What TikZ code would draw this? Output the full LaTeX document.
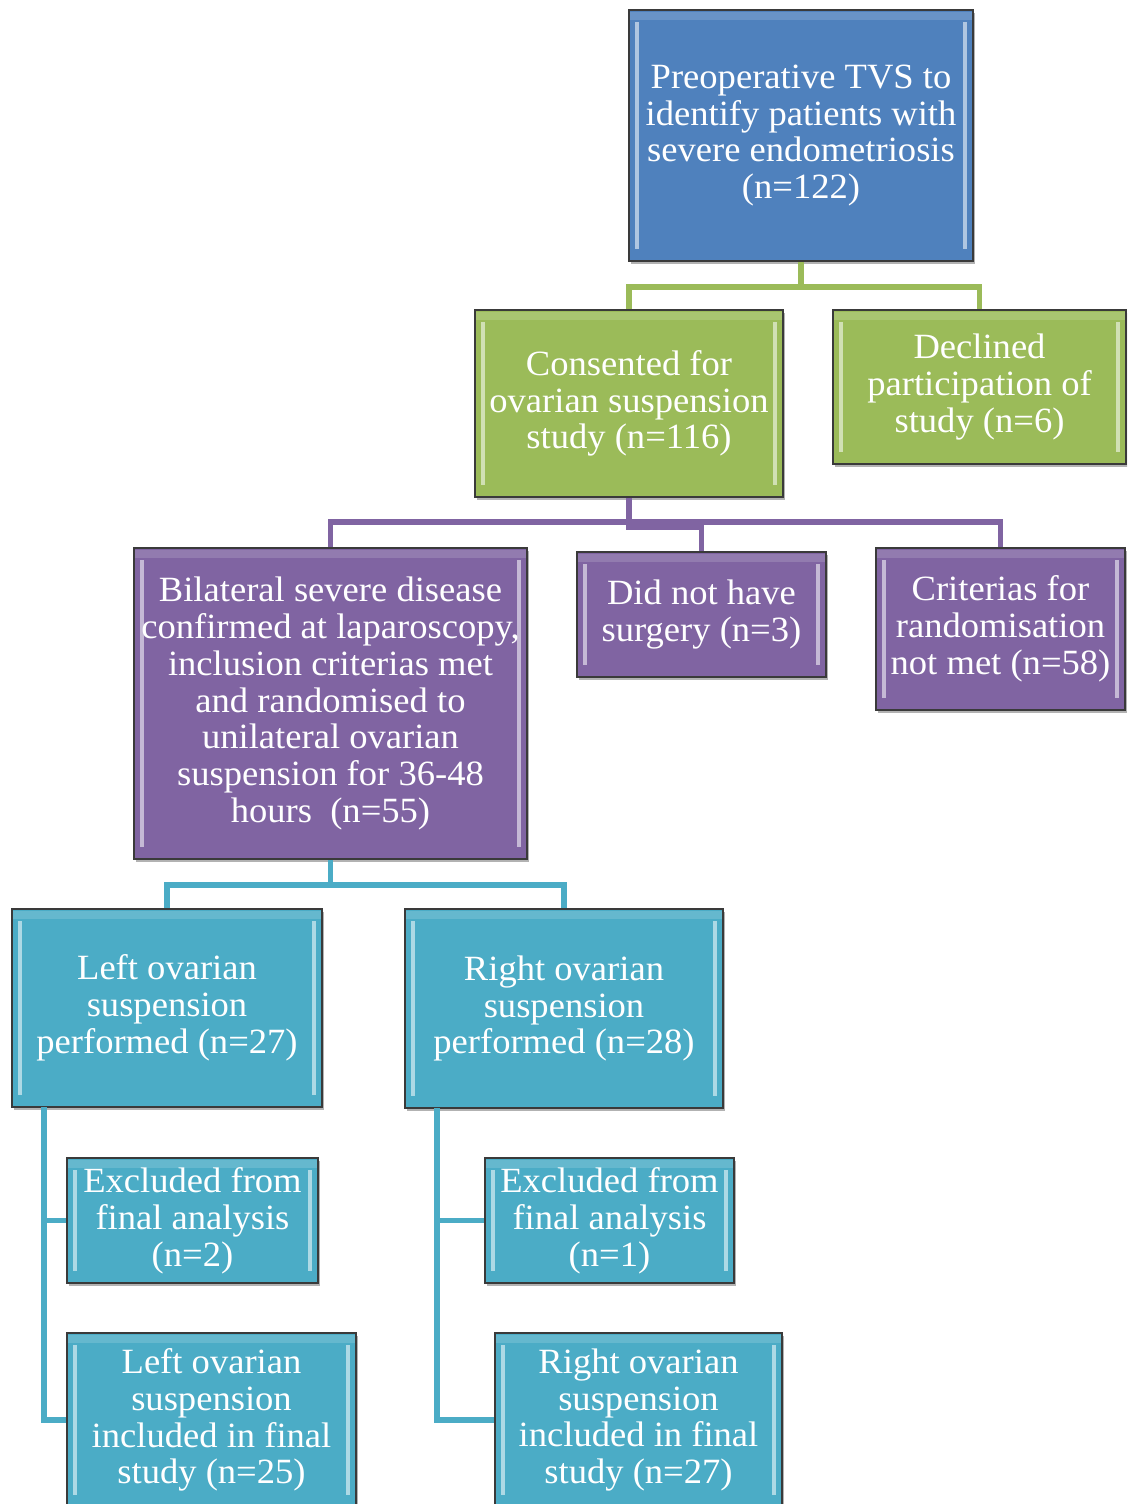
\documentclass[tikz,border=0pt]{standalone}
\usepackage{fontspec}
\setmainfont[FakeStretch=1.03]{Liberation Serif}
\usetikzlibrary{shadows,calc}
\definecolor{cblue}{HTML}{4F81BD}
\definecolor{cgreen}{HTML}{9BBB59}
\definecolor{cpurple}{HTML}{8064A2}
\definecolor{cteal}{HTML}{4BACC6}
\definecolor{cedge}{HTML}{3A3A3A}
\tikzset{
  box/.style={draw=cedge, line width=2.5pt, fill=#1, text=white, align=center,
    font=\fontsize{35.5}{36.8}\selectfont, inner sep=0pt,
    drop shadow={shadow xshift=2pt, shadow yshift=-3pt, opacity=0.3, fill=black},
    path picture={
      \fill[white,opacity=0.55] ([xshift=6pt,yshift=-12pt]path picture bounding box.north west) rectangle ([xshift=10pt,yshift=12pt]path picture bounding box.south west);
      \fill[white,opacity=0.55] ([xshift=-6pt,yshift=-12pt]path picture bounding box.north east) rectangle ([xshift=-10pt,yshift=12pt]path picture bounding box.south east);
      \fill[white,opacity=0.15] ([yshift=-2pt]path picture bounding box.north west) rectangle ([yshift=-10pt]path picture bounding box.north east);
    }},
  con/.style={draw=#1, line width=5.5pt},
}
\begin{document}
\begin{tikzpicture}[x=1pt,y=-1pt]
\useasboundingbox (0,0) rectangle (1127,1504);
\clip (0,0) rectangle (1127,1504);
% boxes
\node[box=cblue, minimum width=344pt, minimum height=251pt] (top) at (801,135.5) {Preoperative TVS to\\identify patients with\\severe endometriosis\\(n=122)};
\node[box=cgreen, minimum width=308pt, minimum height=187pt] (cons) at (629,403.5) {Consented for\\ovarian suspension\\study (n=116)};
\node[box=cgreen, minimum width=293pt, minimum height=154pt] (decl) at (979.5,387) {Declined\\participation of\\study (n=6)};
\node[box=cpurple, minimum width=393pt, minimum height=311pt] (bil) at (330.5,703.5) {Bilateral severe disease\\confirmed at laparoscopy,\\inclusion criterias met\\and randomised to\\unilateral ovarian\\suspension for 36-48\\hours~ (n=55)};
\node[box=cpurple, minimum width=249pt, minimum height=125pt] (did) at (701.5,614.5) {Did not have\\surgery (n=3)};
\node[box=cpurple, minimum width=249pt, minimum height=162pt] (crit) at (1000.5,629) {Criterias for\\randomisation\\not met (n=58)};
\node[box=cteal, minimum width=310pt, minimum height=198pt] (lor) at (167,1008) {Left ovarian\\suspension\\performed (n=27)};
\node[box=cteal, minimum width=318pt, minimum height=199pt] (ror) at (564,1008.5) {Right ovarian\\suspension\\performed (n=28)};
\node[box=cteal, minimum width=251pt, minimum height=125pt] (lex) at (192.5,1220.5) {Excluded from\\final analysis\\(n=2)};
\node[box=cteal, minimum width=249pt, minimum height=125pt] (rex) at (609.5,1220.5) {Excluded from\\final analysis\\(n=1)};
\node[box=cteal, minimum width=289pt, minimum height=174pt] (linc) at (211.5,1420) {Left ovarian\\suspension\\included in final\\study (n=25)};
\node[box=cteal, minimum width=287pt, minimum height=174pt] (rinc) at (638.5,1420) {Right ovarian\\suspension\\included in final\\study (n=27)};
% connectors
\coordinate (g1) at (801,287);
\draw[con=cgreen] (top.south) -- (g1) -| (cons.north);
\draw[con=cgreen] (g1) -| (decl.north);
\coordinate (p1) at (629,522);
\draw[con=cpurple] (cons.south) -- (p1) -| (bil.north);
\draw[con=cpurple] (p1) -| (crit.north);
\draw[con=cpurple] (cons.south) |- ($(did.north)+(0,-24)$) -- (did.north);
\coordinate (t1) at (330.5,885);
\draw[con=cteal] (bil.south) -- (t1) -| (lor.north);
\draw[con=cteal] (t1) -| (ror.north);
\coordinate (l0) at (44,1107);
\draw[con=cteal] (l0) |- (lex.west);
\draw[con=cteal] (l0) |- (linc.west);
\coordinate (r0) at (437,1108);
\draw[con=cteal] (r0) |- (rex.west);
\draw[con=cteal] (r0) |- (rinc.west);
\end{tikzpicture}
\end{document}
